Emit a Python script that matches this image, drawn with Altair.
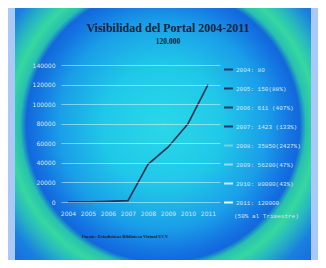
import altair as alt
import pandas as pd

years = [2004, 2005, 2006, 2007, 2008, 2009, 2010, 2011]
visits = [80, 150, 611, 1423, 38500, 56000, 80000, 120000]
legend_labels = [
    "2004: 80",
    "2005: 150(88%)",
    "2006: 611 (407%)",
    "2007: 1423 (133%)",
    "2008: 35850(2427%)",
    "2009: 56200(47%)",
    "2010: 80000(43%)",
    "2011: 120000",
]
legend_colors = ["#1c3a66", "#1c3a66", "#1c3a66", "#1c3a66",
                 "#6fd0e6", "#8fdcec", "#c8ecf6", "#e6f6fb"]
y_ticks = [0, 20000, 40000, 60000, 80000, 100000, 120000, 140000]
title_text = "Visibilidad del Portal 2004-2011"
subtitle_text = "120.000"
note_text = "(50% al Trimestre)"
source_text = "Fuente: Estadísticas Biblioteca Virtual UCV"

df = pd.DataFrame({"year": years, "visits": visits, "label": legend_labels})
one = pd.DataFrame({"k": [0]})

panel_fill = {
    "gradient": "radial",
    "x1": 0.5, "y1": 0.47, "r1": 0,
    "x2": 0.5, "y2": 0.47, "r2": 0.7,
    "stops": [
        {"offset": 0.0, "color": "#2ad8e8"},
        {"offset": 0.29, "color": "#20c8e8"},
        {"offset": 0.5, "color": "#1a9ee8"},
        {"offset": 0.61, "color": "#1476e2"},
        {"offset": 0.66, "color": "#1268dc"},
        {"offset": 0.69, "color": "#28c0b0"},
        {"offset": 0.74, "color": "#36d8a0"},
        {"offset": 0.80, "color": "#28b8c0"},
        {"offset": 0.88, "color": "#1a80e0"},
        {"offset": 1.0, "color": "#1666dc"},
    ],
}

panel = alt.Chart(one).mark_rect(fill=panel_fill).encode(
    x=alt.value(-46), x2=alt.value(250), y=alt.value(-62), y2=alt.value(200)
)

x_enc = alt.X(
    "year:Q",
    scale=alt.Scale(domain=[2003.65, 2011.6], nice=False, zero=False),
    axis=alt.Axis(values=years, format="d", title=None, grid=False, domain=False,
                  ticks=False, labelPadding=8, labelFontSize=6, labelColor="#d6e6f2",
                  labelFont="DejaVu Sans", labelOverlap=False, labelFlush=False,
                  zindex=1),
)
y_enc = alt.Y(
    "visits:Q",
    scale=alt.Scale(domain=[0, 140000], nice=False),
    axis=alt.Axis(values=y_ticks, format="d", title=None, domain=False, ticks=False,
                  gridColor="#ffffff", gridOpacity=0.45, gridWidth=1,
                  labelPadding=6, labelFontSize=6, labelColor="#d6e6f2",
                  labelFont="DejaVu Sans", labelOverlap=False, labelFlush=False,
                  zindex=1),
)

line = alt.Chart(df).mark_line(color="#1b3558", strokeWidth=1.6).encode(x=x_enc, y=y_enc)

legend_layer = alt.Chart(df).mark_point(opacity=0).encode(
    x=x_enc,
    y=y_enc,
    color=alt.Color(
        "label:N",
        scale=alt.Scale(domain=legend_labels, range=legend_colors),
        legend=alt.Legend(
            orient="none", legendX=162, legendY=-1, title=None,
            symbolType="stroke", symbolStrokeWidth=2, symbolSize=81,
            symbolOpacity=1, labelFont="Liberation Mono", labelFontSize=6,
            labelColor="#d2e6f4", rowPadding=9, labelOffset=2, padding=0,
            labelLimit=200,
        ),
    ),
)

note = alt.Chart(one).mark_text(
    text=note_text, align="left", baseline="middle", font="Liberation Mono",
    fontSize=6, color="#d2e6f4",
).encode(x=alt.value(173), y=alt.value(151))

source = alt.Chart(one).mark_text(
    text=source_text, align="center", baseline="middle", font="Liberation Serif",
    fontSize=4.6, fontWeight="bold", color="#14213a",
).encode(x=alt.value(64), y=alt.value(172))

title = alt.Chart(one).mark_text(
    text=title_text, align="center", baseline="middle", font="Liberation Serif",
    fontSize=12, fontWeight="bold", color="#16243c",
).encode(x=alt.value(107), y=alt.value(-37))

subtitle = alt.Chart(one).mark_text(
    text=subtitle_text, align="center", baseline="middle", font="Liberation Serif",
    fontSize=7.5, fontWeight="bold", color="#16243c",
).encode(x=alt.value(107), y=alt.value(-23))

chart = alt.layer(panel, line, legend_layer, note, source, title, subtitle).properties(
    width=159,
    height=137,
    autosize=alt.AutoSizeParams(type="none"),
    padding={"left": 53, "top": 57, "right": 98, "bottom": 58},
).configure(background="#aac8f8").configure_view(stroke=None)

chart.save("out.html", embed_options={"renderer": "svg", "actions": False})
